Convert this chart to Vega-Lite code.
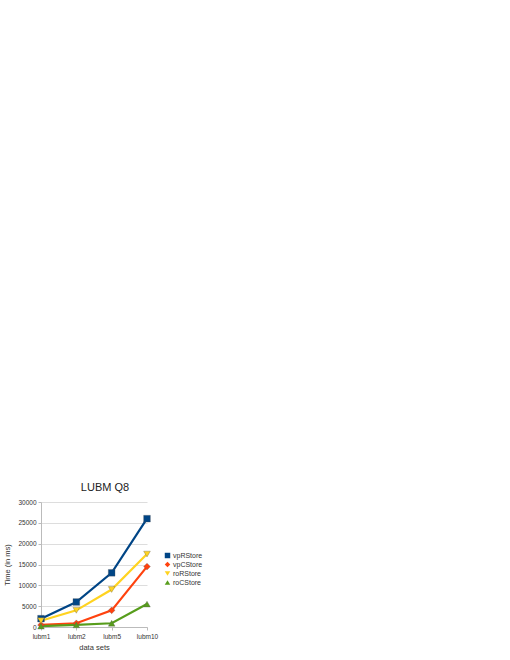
{
  "$schema": "https://vega.github.io/schema/vega-lite/v6.json",
  "autosize": "none",
  "width": 106,
  "height": 125,
  "padding": {"left": 41, "top": 502, "right": 363, "bottom": 33},
  "background": "white",
  "config": {"font": "Liberation Sans", "view": {"stroke": null}},
  "title": {"text": "LUBM Q8", "fontSize": 11, "fontWeight": "normal", "color": "#222", "frame": "group", "anchor": "middle", "dx": 11, "offset": 6},
  "data": {"values": [
    {"set": "lubm1", "series": "vpRStore", "time": 2000},
    {"set": "lubm2", "series": "vpRStore", "time": 6000},
    {"set": "lubm5", "series": "vpRStore", "time": 13000},
    {"set": "lubm10", "series": "vpRStore", "time": 26000},
    {"set": "lubm1", "series": "vpCStore", "time": 500},
    {"set": "lubm2", "series": "vpCStore", "time": 900},
    {"set": "lubm5", "series": "vpCStore", "time": 4000},
    {"set": "lubm10", "series": "vpCStore", "time": 14500},
    {"set": "lubm1", "series": "roRStore", "time": 1500},
    {"set": "lubm2", "series": "roRStore", "time": 4000},
    {"set": "lubm5", "series": "roRStore", "time": 9000},
    {"set": "lubm10", "series": "roRStore", "time": 17500},
    {"set": "lubm1", "series": "roCStore", "time": 200},
    {"set": "lubm2", "series": "roCStore", "time": 500},
    {"set": "lubm5", "series": "roCStore", "time": 900},
    {"set": "lubm10", "series": "roCStore", "time": 5500}
  ]},
  "mark": {"type": "line", "strokeWidth": 2.2, "point": {"filled": true, "size": 45, "strokeWidth": 0.8, "stroke": "#555", "strokeOpacity": 0.4}},
  "encoding": {
    "x": {"field": "set", "type": "ordinal", "scale": {"type": "point", "padding": 0, "domain": ["lubm1", "lubm2", "lubm5", "lubm10"]},
      "axis": {"title": "data sets", "labelAngle": 0, "labelFontSize": 6.5, "labelColor": "#333", "titleFontSize": 7.5, "titleFontWeight": "normal", "titleColor": "#333", "domainColor": "#bbb", "tickColor": "#bbb", "tickSize": 3, "labelPadding": 3, "titlePadding": 4}},
    "y": {"field": "time", "type": "quantitative", "scale": {"domain": [0, 30000]},
      "axis": {"title": "Time (in ms)", "values": [0, 5000, 10000, 15000, 20000, 25000, 30000], "format": "d", "labelFontSize": 6.5, "labelColor": "#333", "titleFontSize": 7.5, "titleFontWeight": "normal", "titleColor": "#333", "domainColor": "#bbb", "tickColor": "#bbb", "tickSize": 3, "gridColor": "#ddd", "labelPadding": 2, "titlePadding": 6}},
    "color": {"field": "series", "type": "nominal", "sort": ["vpRStore", "vpCStore", "roRStore", "roCStore"],
      "scale": {"domain": ["vpRStore", "vpCStore", "roRStore", "roCStore"], "range": ["#004586", "#ff420e", "#ffd320", "#579d1c"]},
      "legend": {"title": null, "orient": "none", "legendX": 123, "legendY": 50, "labelFontSize": 7, "labelColor": "#333", "symbolSize": 30, "rowPadding": 1, "labelOffset": 2, "symbolStrokeWidth": 0}},
    "shape": {"field": "series", "type": "nominal",
      "scale": {"domain": ["vpRStore", "vpCStore", "roRStore", "roCStore"], "range": ["square", "diamond", "triangle-down", "triangle-up"]},
      "legend": null}
  }
}
